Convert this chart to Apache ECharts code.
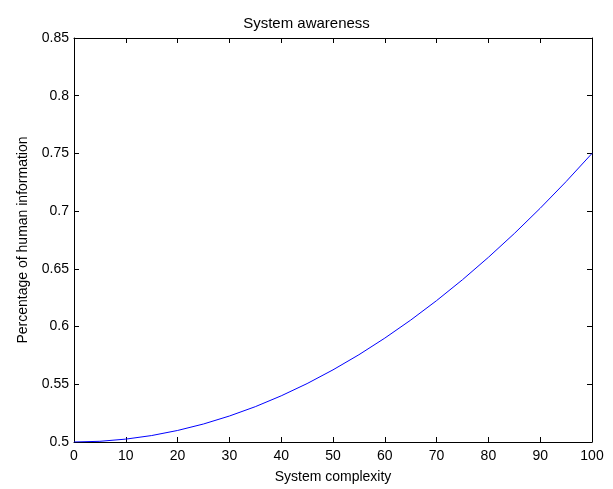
<!DOCTYPE html>
<html>
<head>
<meta charset="utf-8">
<script src="https://cdn.jsdelivr.net/npm/echarts@6/dist/echarts.min.js"></script>
<style>
  html, body { margin: 0; padding: 0; background: #fff; }
  #main { width: 613px; height: 489px; }
</style>
</head>
<body>
<div id="main"></div>
<script>
// 读图得到的数据
var complexity = [0, 5, 10, 15, 20, 25, 30, 35, 40, 45, 50, 55, 60, 65, 70, 75, 80, 85, 90, 95, 100];
var awareness = [0.5, 0.5006, 0.5025, 0.5056, 0.51, 0.5156, 0.5225, 0.5306, 0.54, 0.5506, 0.5625,
  0.5756, 0.59, 0.6056, 0.6225, 0.6406, 0.66, 0.6806, 0.7025, 0.7256, 0.75];
var xTicks = { min: 0, max: 100, step: 10 };
var yTicks = { min: 0.5, max: 0.85, step: 0.05 };

var font = "Liberation Sans, Arial, sans-serif";

var points = complexity.map(function (x, i) { return [x, awareness[i]]; });

function boxAxis(cfg, showLabel) {
  return {
    type: "value",
    min: cfg.min,
    max: cfg.max,
    interval: cfg.step,
    axisLine: { show: true, onZero: false, lineStyle: { color: "#000", width: 1 } },
    axisTick: { show: true, inside: true, length: 5, lineStyle: { color: "#000" } },
    splitLine: { show: false },
    axisLabel: {
      show: showLabel,
      color: "#000",
      fontFamily: font,
      fontSize: 14,
      formatter: function (v) { return String(Math.round(v * 100) / 100); }
    }
  };
}

var xBottom = boxAxis(xTicks, true);
xBottom.position = "bottom";
xBottom.axisLabel.margin = 7;
xBottom.name = "System complexity";
xBottom.nameLocation = "middle";
xBottom.nameGap = 28;
xBottom.nameTextStyle = { color: "#000", fontFamily: font, fontSize: 14 };

var xTop = boxAxis(xTicks, false);
xTop.position = "top";

var yLeft = boxAxis(yTicks, true);
yLeft.position = "left";
yLeft.axisLabel.margin = 5;
yLeft.name = "Percentage of human information";
yLeft.nameLocation = "middle";
yLeft.nameRotate = 90;
yLeft.nameGap = 44;
yLeft.nameTextStyle = { color: "#000", fontFamily: font, fontSize: 14 };

var yRight = boxAxis(yTicks, false);
yRight.position = "right";

var myChart = echarts.init(document.getElementById("main"));
var option = {
  animation: false,
  backgroundColor: "#fff",
  title: {
    text: "System awareness",
    left: "center",
    top: 11,
    textStyle: { color: "#000", fontFamily: font, fontSize: 15, fontWeight: "normal" }
  },
  grid: { left: 74, right: 21, top: 38, bottom: 43, containLabel: false },
  xAxis: [xBottom, xTop],
  yAxis: [yLeft, yRight],
  series: [
    {
      type: "line",
      data: points,
      xAxisIndex: 0,
      yAxisIndex: 0,
      showSymbol: false,
      lineStyle: { color: "#0000ff", width: 1 },
      itemStyle: { color: "#0000ff" }
    }
  ]
};
myChart.setOption(option);
</script>
</body>
</html>
